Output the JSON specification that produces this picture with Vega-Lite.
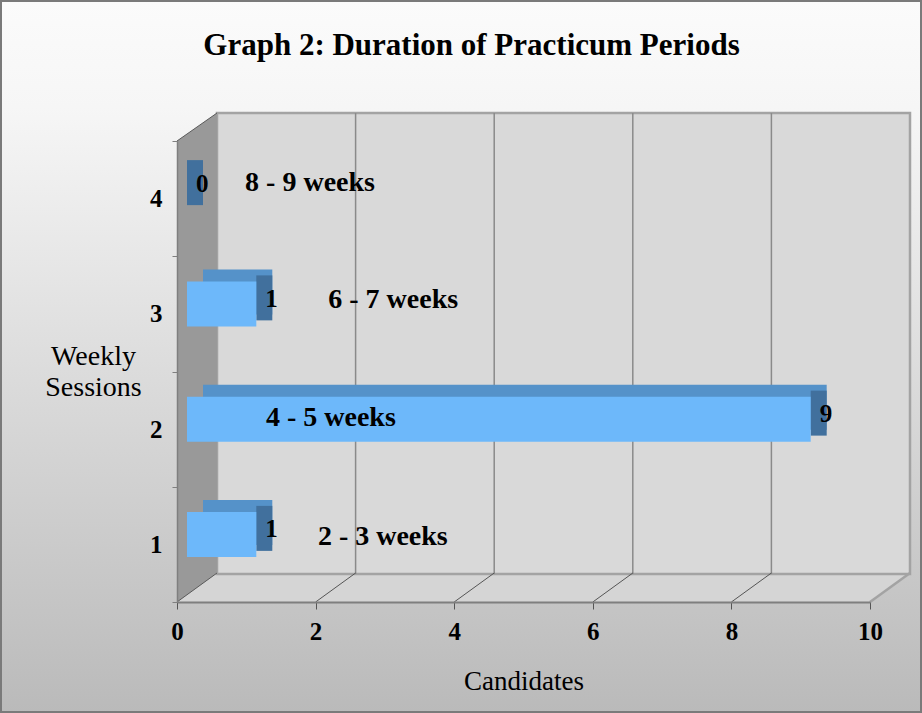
{
  "$schema": "https://vega.github.io/schema/vega-lite/v6.json",
  "width": 693,
  "height": 461,
  "autosize": {"type": "none"},
  "padding": {"left": 177, "top": 141, "right": 52, "bottom": 111},
  "background": "#e3e3e3",
  "title": {
    "text": "Graph 2: Duration of Practicum Periods",
    "font": "Liberation Serif",
    "fontSize": 31,
    "fontWeight": "bold",
    "color": "#000000",
    "anchor": "middle",
    "frame": "group",
    "dx": -52,
    "offset": -62
  },
  "config": {
    "view": {"fill": null, "stroke": null}
  },
  "datasets": {
    "bars": [
      {"sessions": "1", "candidates": 1, "weeks": "2 - 3 weeks"},
      {"sessions": "2", "candidates": 9, "weeks": "4 - 5 weeks"},
      {"sessions": "3", "candidates": 1, "weeks": "6 - 7 weeks"},
      {"sessions": "4", "candidates": 0, "weeks": "8 - 9 weeks"}
    ],
    "grid": [{"tick": 2}, {"tick": 4}, {"tick": 6}, {"tick": 8}],
    "floor": [{"tick": 2}, {"tick": 4}, {"tick": 6}, {"tick": 8}]
  },
  "data": {"name": "bars"},
  "encoding": {
    "y": {
      "field": "sessions",
      "type": "nominal",
      "sort": "descending",
      "scale": {"paddingInner": 0, "paddingOuter": 0},
      "axis": {
        "zindex": 1,
        "title": ["Weekly", "Sessions"],
        "titleAngle": 0,
        "titleAlign": "center",
        "titleBaseline": "middle",
        "titleX": -84,
        "titleY": 215,
        "titleFont": "Liberation Serif",
        "titleFontSize": 28,
        "titleFontWeight": "normal",
        "titleColor": "#000000",
        "titleLineHeight": 31,
        "labelAngle": 0,
        "labelFont": "Liberation Serif",
        "labelFontSize": 25,
        "labelFontWeight": "bold",
        "labelColor": "#000000",
        "labelPadding": 10,
        "tickBand": "extent",
        "tickSize": 5,
        "tickColor": "#7f7f7f",
        "domainColor": "#7f7f7f",
        "domainWidth": 1.5
      }
    }
  },
  "layer": [
    {
      "data": {"values": [{"part": "page"}]},
      "mark": {
        "type": "rect",
        "stroke": "#7a7a7a",
        "strokeWidth": 2,
        "fill": {"gradient": "linear", "x1": 0, "y1": 0, "x2": 0, "y2": 1, "stops": [{"offset": 0, "color": "#fbfbfb"}, {"offset": 0.15, "color": "#f6f6f6"}, {"offset": 1, "color": "#bababa"}]},
        "xOffset": -176, "x2Offset": 51, "yOffset": -140, "y2Offset": 110
      },
      "encoding": {
        "y": {"datum": "4", "bandPosition": 0},
        "y2": {"datum": "1", "bandPosition": 1},
        "x": {"datum": 0, "type": "quantitative"},
        "x2": {"datum": 10}
      }
    },
    {
      "data": {"values": [{"wall": "floor"}]},
      "mark": {"type": "point", "filled": true, "fill": "#d5d5d5", "opacity": 1, "strokeWidth": 0, "size": 1000000, "shape": "M0,0 L0.08,-0.058 L1.466,-0.058 L1.386,0 Z"},
      "encoding": {
        "y": {"datum": "1", "bandPosition": 1},
        "x": {"datum": 0, "type": "quantitative"}
      }
    },
    {
      "data": {"values": [{"wall": "back"}]},
      "mark": {"type": "rect", "fill": "#d9d9d9", "stroke": "#a3a3a3", "strokeWidth": 2.5, "xOffset": 40, "x2Offset": 40, "yOffset": -28, "y2Offset": -28},
      "encoding": {
        "y": {"datum": "4", "bandPosition": 0},
        "y2": {"datum": "1", "bandPosition": 1},
        "x": {"datum": 0, "type": "quantitative"},
        "x2": {"datum": 10}
      }
    },
    {
      "data": {"name": "grid"},
      "mark": {"type": "rule", "stroke": "#8a8a8a", "strokeWidth": 1.5, "xOffset": 40, "x2Offset": 40, "yOffset": -28, "y2Offset": -28},
      "encoding": {
        "y": {"datum": "4", "bandPosition": 0},
        "y2": {"datum": "1", "bandPosition": 1},
        "x": {"field": "tick", "type": "quantitative"}
      }
    },
    {
      "data": {"name": "floor"},
      "mark": {"type": "rule", "stroke": "#555555", "strokeWidth": 1, "x2Offset": 40, "y2Offset": -29},
      "encoding": {
        "y": {"datum": "1", "bandPosition": 1},
        "y2": {"datum": "1", "bandPosition": 1},
        "x": {"field": "tick", "type": "quantitative"},
        "x2": {"field": "tick"}
      }
    },
    {
      "data": {"values": [{"edge": "right"}]},
      "mark": {"type": "rule", "stroke": "#a3a3a3", "strokeWidth": 2.5, "x2Offset": 40, "y2Offset": -29},
      "encoding": {
        "y": {"datum": "1", "bandPosition": 1},
        "y2": {"datum": "1", "bandPosition": 1},
        "x": {"datum": 10, "type": "quantitative"},
        "x2": {"datum": 10}
      }
    },
    {
      "data": {"values": [{"wall": "left"}]},
      "mark": {"type": "point", "filled": true, "fill": "#999999", "opacity": 1, "strokeWidth": 0, "size": 1000000, "shape": "M0,0 L0,-0.922 L0.08,-0.978 L0.08,-0.058 Z"},
      "encoding": {
        "y": {"datum": "1", "bandPosition": 1},
        "x": {"datum": 0, "type": "quantitative"}
      }
    },
    {
      "data": {"values": [{"edge": "top"}]},
      "mark": {"type": "rule", "stroke": "#5a5a5a", "strokeWidth": 1, "x2Offset": 40, "y2Offset": -28},
      "encoding": {
        "y": {"datum": "4", "bandPosition": 0},
        "y2": {"datum": "4", "bandPosition": 0},
        "x": {"datum": 0, "type": "quantitative"},
        "x2": {"datum": 0}
      }
    },
    {
      "data": {"values": [{"edge": "bottom"}]},
      "mark": {"type": "rule", "stroke": "#5a5a5a", "strokeWidth": 1, "x2Offset": 40, "y2Offset": -29},
      "encoding": {
        "y": {"datum": "1", "bandPosition": 1},
        "y2": {"datum": "1", "bandPosition": 1},
        "x": {"datum": 0, "type": "quantitative"},
        "x2": {"datum": 0}
      }
    },
    {
      "mark": {"type": "bar", "orient": "horizontal", "height": 45, "fill": "#5592c9", "xOffset": 26, "x2Offset": 26, "yOffset": -22},
      "encoding": {
        "x": {
          "field": "candidates",
          "type": "quantitative",
          "scale": {"domain": [0, 10], "nice": false},
          "axis": {
            "zindex": 1,
            "values": [0, 2, 4, 6, 8, 10],
            "format": "d",
            "grid": false,
            "title": "Candidates",
            "titleFont": "Liberation Serif",
            "titleFontSize": 27,
            "titleFontWeight": "normal",
            "titleColor": "#000000",
            "titlePadding": 24,
            "labelFont": "Liberation Serif",
            "labelFontSize": 25,
            "labelFontWeight": "bold",
            "labelColor": "#000000",
            "labelPadding": 10,
            "labelFlush": false,
            "tickSize": 7,
            "tickColor": "#555555",
            "domainColor": "#7f7f7f",
            "domainWidth": 2
          }
        }
      }
    },
    {
      "mark": {"type": "bar", "height": 45, "fill": "#41709d", "xOffset": 10, "x2Offset": 26, "yOffset": -16},
      "encoding": {
        "x": {"field": "candidates", "type": "quantitative"},
        "x2": {"field": "candidates"}
      }
    },
    {
      "mark": {"type": "bar", "orient": "horizontal", "height": 45, "fill": "#6db8fa", "xOffset": 10, "x2Offset": 10, "yOffset": -10},
      "encoding": {
        "x": {"field": "candidates", "type": "quantitative"}
      }
    },
    {
      "mark": {"type": "text", "align": "left", "baseline": "middle", "dx": 19, "dy": -15, "font": "Liberation Serif", "fontSize": 25, "fontWeight": "bold", "color": "#000000"},
      "encoding": {
        "x": {"field": "candidates", "type": "quantitative"},
        "text": {"field": "candidates", "type": "quantitative"}
      }
    },
    {
      "transform": [{"filter": "datum.sessions == '1'"}],
      "mark": {"type": "text", "align": "center", "baseline": "middle", "dy": -7, "font": "Liberation Serif", "fontSize": 28, "fontWeight": "bold", "color": "#000000"},
      "encoding": {"x": {"datum": 2.97, "type": "quantitative"}, "text": {"field": "weeks"}}
    },
    {
      "transform": [{"filter": "datum.sessions == '2'"}],
      "mark": {"type": "text", "align": "center", "baseline": "middle", "dy": -11, "font": "Liberation Serif", "fontSize": 28, "fontWeight": "bold", "color": "#000000"},
      "encoding": {"x": {"datum": 2.22, "type": "quantitative"}, "text": {"field": "weeks"}}
    },
    {
      "transform": [{"filter": "datum.sessions == '3'"}],
      "mark": {"type": "text", "align": "center", "baseline": "middle", "dy": -14, "font": "Liberation Serif", "fontSize": 28, "fontWeight": "bold", "color": "#000000"},
      "encoding": {"x": {"datum": 3.12, "type": "quantitative"}, "text": {"field": "weeks"}}
    },
    {
      "transform": [{"filter": "datum.sessions == '4'"}],
      "mark": {"type": "text", "align": "center", "baseline": "middle", "dy": -16, "font": "Liberation Serif", "fontSize": 28, "fontWeight": "bold", "color": "#000000"},
      "encoding": {"x": {"datum": 1.92, "type": "quantitative"}, "text": {"field": "weeks"}}
    }
  ]
}
